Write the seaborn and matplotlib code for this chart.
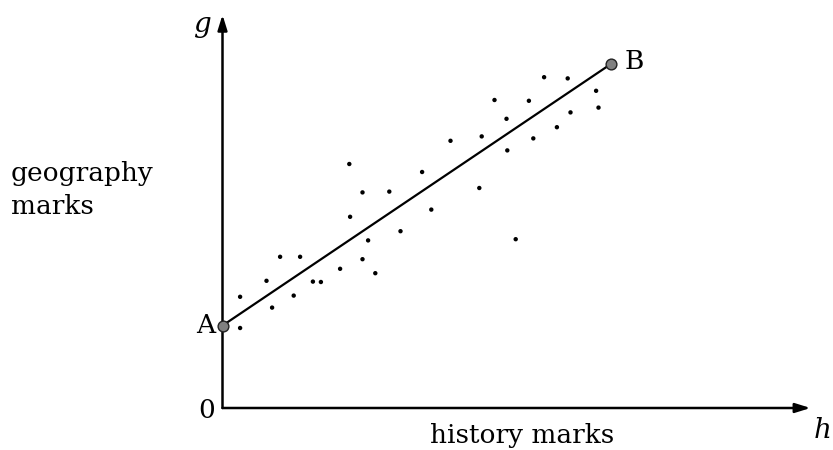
import seaborn as sns
import matplotlib.pyplot as plt
import pandas as pd

# history marks (h) and geography marks (g)
h = [31.7, 35.0, 41.7, 49.9, 57.0, 64.8, 64.2, 71.2, 71.0, 68.0, 76.6, 77.7,
     83.6, 87.0, 80.4, 86.3, 93.4, 94.0, 31.9, 52.2, 44.5, 36.4, 73.3, 35.0,
     38.2, 29.4, 24.6, 22.6, 19.4, 14.4, 11.0, 17.8, 12.4, 4.4, 4.4]
g = [61.0, 53.9, 54.1, 59.0, 66.8, 67.9, 55.0, 64.4, 72.3, 77.0, 76.8, 67.4,
     70.2, 73.9, 82.7, 82.4, 79.3, 75.1, 47.8, 49.6, 44.2, 41.9, 42.2, 37.2,
     33.7, 34.8, 31.5, 31.6, 37.8, 37.8, 31.8, 28.1, 25.1, 27.8, 20.0]

# end points of the line of best fit
line_names = ['A', 'B']
line_h = [0.0, 97.1]
line_g = [20.6, 86.0]

dots = pd.DataFrame({'h': h, 'g': g})
ends = pd.DataFrame({'h': line_h, 'g': line_g, 'name': line_names})

sns.set_style('white')
plt.rcParams['font.family'] = ['DejaVu Serif']
plt.rcParams['text.color'] = 'black'

fig = plt.figure(figsize=(8.33, 4.5), dpi=100)
ax = fig.add_axes([0, 0, 1, 1])
ax.set_xlim(-55.625, 152.625)
ax.set_ylim(-10.5, 102)
ax.axis('off')

# axes with arrow heads
arrow = dict(arrowstyle='-|>,head_length=0.9,head_width=0.28', color='black', lw=1.8,
             shrinkA=0, shrinkB=0)
ax.annotate('', xy=(147, 0), xytext=(0, 0), arrowprops=arrow)
ax.annotate('', xy=(0, 98.3), xytext=(0, 0), arrowprops=arrow)

sns.lineplot(data=ends, x='h', y='g', color='black', lw=1.6, ax=ax, legend=False)
sns.scatterplot(data=dots, x='h', y='g', color='black', s=10, edgecolor='none', ax=ax)
sns.scatterplot(data=ends, x='h', y='g', color='#808080', edgecolor='#222222', linewidth=1,
                s=60, ax=ax, zorder=5)

ax.text(-1.8, line_g[0], 'A', ha='right', va='center', fontsize=19)
ax.text(line_h[1] + 3.5, line_g[1] + 0.7, 'B', ha='left', va='center', fontsize=19)
ax.text(-2, -0.5, '0', ha='right', va='center', fontsize=19)
ax.text(-3, 96, 'g', ha='right', va='center', fontsize=20, style='italic')
ax.text(150, -5.5, 'h', ha='center', va='center', fontsize=20, style='italic')
ax.text(75, -7, 'history marks', ha='center', va='center', fontsize=19)
ax.text(-53, 54.5, 'geography\nmarks', ha='left', va='center', fontsize=19, linespacing=1.45)

fig.savefig('out.png', dpi=100)
